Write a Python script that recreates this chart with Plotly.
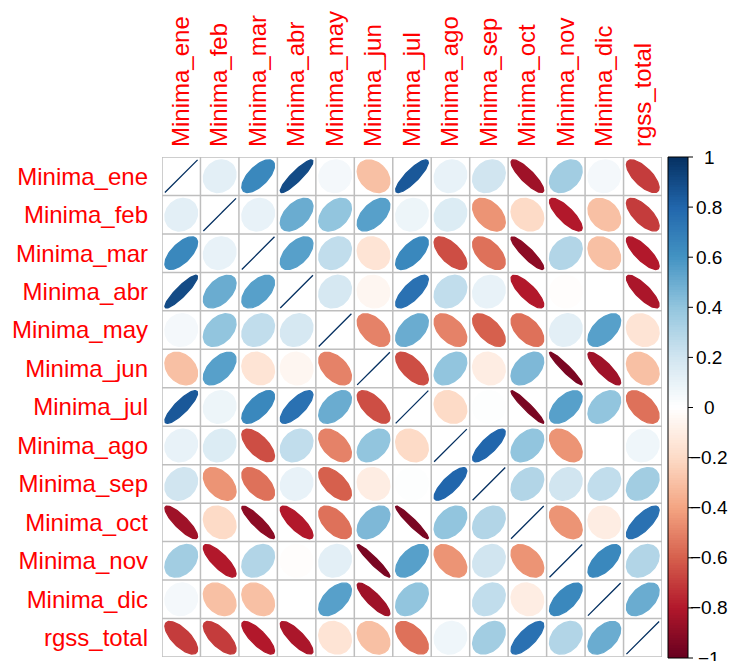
import numpy as np
import plotly.graph_objects as go

# Variables shown on both axes of the correlation matrix
variables = [
    "Minima_ene", "Minima_feb", "Minima_mar", "Minima_abr", "Minima_may",
    "Minima_jun", "Minima_jul", "Minima_ago", "Minima_sep", "Minima_oct",
    "Minima_nov", "Minima_dic", "rgss_total",
]

# Correlation matrix (rows/cols in the order of `variables`)
corr_ene = [1.00, 0.12, 0.65, 0.90, 0.05, -0.30, 0.85, 0.10, 0.20, -0.85, 0.35, 0.05, -0.70]
corr_feb = [0.12, 1.00, 0.10, 0.50, 0.40, 0.55, 0.08, 0.15, -0.45, -0.20, -0.80, -0.30, -0.70]
corr_mar = [0.65, 0.10, 1.00, 0.55, 0.25, -0.15, 0.65, -0.65, -0.55, -0.90, 0.30, -0.30, -0.80]
corr_abr = [0.90, 0.50, 0.55, 1.00, 0.18, -0.05, 0.75, 0.25, 0.10, -0.80, -0.01, 0.00, -0.82]
corr_may = [0.05, 0.40, 0.25, 0.18, 1.00, -0.50, 0.50, -0.50, -0.60, -0.55, 0.12, 0.55, -0.15]
corr_jun = [-0.30, 0.55, -0.15, -0.05, -0.50, 1.00, -0.65, 0.40, -0.10, 0.45, -0.95, -0.85, -0.30]
corr_jul = [0.85, 0.08, 0.65, 0.75, 0.50, -0.65, 1.00, -0.20, 0.01, -0.95, 0.55, 0.40, -0.55]
corr_ago = [0.10, 0.15, -0.65, 0.25, -0.50, 0.40, -0.20, 1.00, 0.80, 0.40, -0.45, 0.00, 0.07]
corr_sep = [0.20, -0.45, -0.55, 0.10, -0.60, -0.10, 0.01, 0.80, 1.00, 0.30, 0.20, 0.25, 0.35]
corr_oct = [-0.85, -0.20, -0.90, -0.80, -0.55, 0.45, -0.95, 0.40, 0.30, 1.00, -0.45, -0.10, 0.75]
corr_nov = [0.35, -0.80, 0.30, -0.01, 0.12, -0.95, 0.55, -0.45, 0.20, -0.45, 1.00, 0.65, 0.30]
corr_dic = [0.05, -0.30, -0.30, 0.00, 0.55, -0.85, 0.40, 0.00, 0.25, -0.10, 0.65, 1.00, 0.50]
corr_rgss = [-0.70, -0.70, -0.80, -0.82, -0.15, -0.30, -0.55, 0.07, 0.35, 0.75, 0.30, 0.50, 1.00]

corr = [corr_ene, corr_feb, corr_mar, corr_abr, corr_may, corr_jun, corr_jul,
        corr_ago, corr_sep, corr_oct, corr_nov, corr_dic, corr_rgss]

# Colour legend ticks
legend_ticks = [-1, -0.8, -0.6, -0.4, -0.2, 0, 0.2, 0.4, 0.6, 0.8, 1]
legend_labels = ["\u22121", "\u22120.8", "\u22120.6", "\u22120.4", "\u22120.2", "0",
                 "0.2", "0.4", "0.6", "0.8", "1"]

# Diverging red-white-blue palette
palette = ["#67001F", "#B2182B", "#D6604D", "#F4A582", "#FDDBC7", "#FFFFFF",
           "#D1E5F0", "#92C5DE", "#4393C3", "#2166AC", "#053061"]
colorscale = [[k / (len(palette) - 1), c] for k, c in enumerate(palette)]


def hex_rgb(h):
    h = h.lstrip("#")
    return np.array([int(h[k:k + 2], 16) for k in (0, 2, 4)], dtype=float)


def color_at(v):
    p = (np.clip(v, -1, 1) + 1) / 2 * (len(palette) - 1)
    lo = int(np.floor(p))
    hi = min(lo + 1, len(palette) - 1)
    f = p - lo
    rgb = hex_rgb(palette[lo]) * (1 - f) + hex_rgb(palette[hi]) * f
    return "rgb(%d,%d,%d)" % tuple(np.round(rgb).astype(int))


W, H = 732, 661
left, right, top, bottom = 162, 662, 157, 657   # matrix area in pixels
cb_left, cb_right, cb_top, cb_bottom = 668, 688, 157, 658

n = len(variables)
fig = go.Figure()

# Ellipses: shape of a bivariate normal contour for each correlation
t = np.linspace(0, 2 * np.pi, 99)
for i in range(n):
    for j in range(n):
        r = corr[i][j]
        d = np.arccos(np.clip(r, -1, 1)) / 2
        ex = (j + 1) + 0.85 * np.cos(t + d) / 2
        ey = (i + 1) - 0.85 * np.cos(t - d) / 2
        c = color_at(r)
        fig.add_trace(go.Scatter(
            x=ex, y=ey, mode="lines", fill="toself", fillcolor=c,
            line=dict(color=c, width=1.3), hoverinfo="skip", showlegend=False,
            xaxis="x", yaxis="y",
        ))

# Colour legend as a stacked heatmap
levels = np.linspace(-1, 1, 201)
centers = (levels[:-1] + levels[1:]) / 2
fig.add_trace(go.Heatmap(
    z=[[v] for v in centers], x=[0], y=centers, colorscale=colorscale,
    zmin=-1, zmax=1, showscale=False, hoverinfo="skip", xaxis="x2", yaxis="y2",
))

shapes = []
grid_col = "#BEBEBE"
for k in range(n + 1):
    pos = k + 0.5
    shapes.append(dict(type="line", xref="x", yref="y", x0=pos, x1=pos, y0=0.5, y1=n + 0.5,
                       line=dict(color=grid_col, width=1.5), layer="below"))
    shapes.append(dict(type="line", xref="x", yref="y", x0=0.5, x1=n + 0.5, y0=pos, y1=pos,
                       line=dict(color=grid_col, width=1.5), layer="below"))

# Legend border, ticks and labels (paper coordinates)
shapes.append(dict(type="rect", xref="paper", yref="paper",
                   x0=cb_left / W, x1=cb_right / W, y0=1 - cb_bottom / H, y1=1 - cb_top / H,
                   line=dict(color="black", width=1)))
annotations = []
for v, lab in zip(legend_ticks, legend_labels):
    py = cb_bottom - (v + 1) / 2 * (cb_bottom - cb_top)
    yp = 1 - py / H
    shapes.append(dict(type="line", xref="paper", yref="paper",
                       x0=cb_right / W, x1=(cb_right + 5) / W, y0=yp, y1=yp,
                       line=dict(color="black", width=1)))
    annotations.append(dict(xref="paper", yref="paper", x=709 / W, y=yp, text=lab,
                            showarrow=False, xanchor="center", yanchor="middle",
                            font=dict(size=19, color="black")))

label_font = dict(family="Liberation Sans, Arial, sans-serif", size=24, color="#FF0000")

fig.update_layout(
    width=W, height=H,
    margin=dict(l=0, r=0, t=0, b=0),
    paper_bgcolor="white", plot_bgcolor="white",
    font=dict(family="Liberation Sans, Arial, sans-serif"),
    xaxis=dict(domain=[left / W, right / W], range=[0.5, n + 0.5], side="top",
               tickvals=list(range(1, n + 1)), ticktext=variables, tickangle=-90,
               tickfont=label_font, showgrid=False, zeroline=False, showline=False,
               ticks="", automargin=False, ticklabelstandoff=9, fixedrange=True),
    yaxis=dict(domain=[1 - bottom / H, 1 - top / H], range=[n + 0.5, 0.5],
               tickvals=list(range(1, n + 1)), ticktext=variables,
               tickfont=label_font, showgrid=False, zeroline=False, showline=False,
               ticks="", automargin=False, ticklabelstandoff=13, fixedrange=True),
    xaxis2=dict(domain=[cb_left / W, cb_right / W], range=[-0.5, 0.5], visible=False,
                anchor="y2", fixedrange=True),
    yaxis2=dict(domain=[1 - cb_bottom / H, 1 - cb_top / H], range=[-1, 1], visible=False,
                anchor="x2", fixedrange=True),
    shapes=shapes,
    annotations=annotations,
)

fig.write_html("out.html")
